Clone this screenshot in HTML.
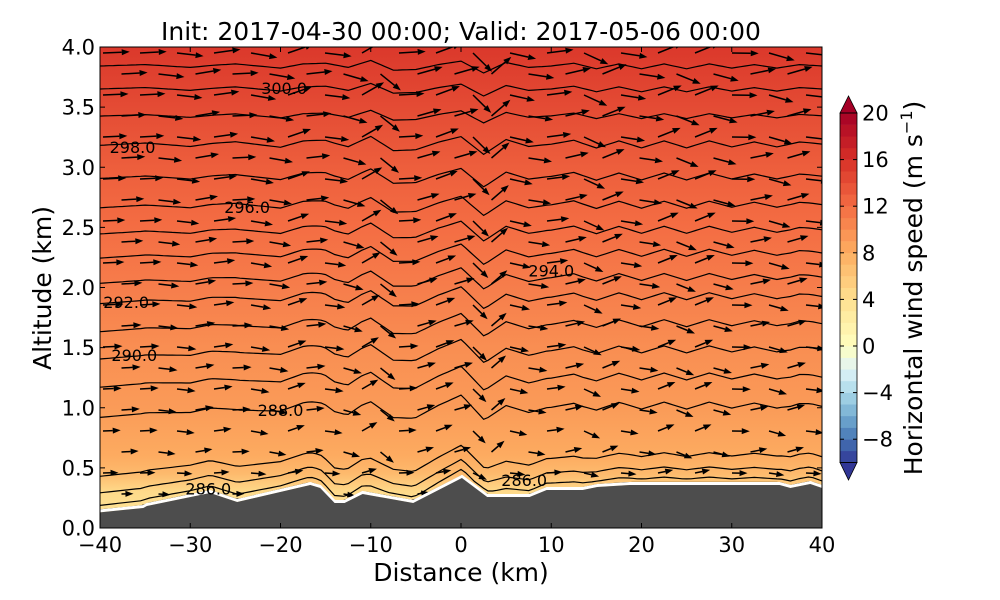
<!DOCTYPE html>
<html><head><meta charset="utf-8">
<style>
html,body{margin:0;padding:0;background:#fff;}
svg{display:block;font-family:"DejaVu Sans","Liberation Sans",sans-serif;}
</style></head>
<body>
<svg id="chart" width="1000" height="600" viewBox="0 0 1000 600">
  <defs>
    <clipPath id="plotclip"><rect x="100" y="47" width="722" height="481"/></clipPath>
    <linearGradient id="bgGrad" x1="0" y1="0" x2="0" y2="1" gradientUnits="objectBoundingBox"></linearGradient>
  </defs>
  <rect x="0" y="0" width="1000" height="600" fill="#fff"/>
  <g clip-path="url(#plotclip)">
    <rect x="100" y="47" width="722" height="481" fill="url(#bgGrad)"/>
    <g id="contours"></g>
    <g id="arrows"></g>
    <path id="terrainWhite" fill="none" stroke="#fff" stroke-width="3"/>
    <path id="terrain" fill="#4d4d4d"/>
    <g id="clabels"></g>
  </g>
  <rect x="100" y="47" width="722" height="481" fill="none" stroke="#000" stroke-width="1"/>
  <g id="xticks"></g>
  <g id="yticks"></g>
  <text x="461" y="40" text-anchor="middle" font-size="25">Init: 2017-04-30 00:00; Valid: 2017-05-06 00:00</text>
  <text x="461" y="581" text-anchor="middle" font-size="25">Distance (km)</text>
  <text transform="translate(51,288) rotate(-90)" text-anchor="middle" font-size="25">Altitude (km)</text>
  <g id="cbar"></g>
  <text transform="translate(922,288) rotate(-90)" text-anchor="middle" font-size="25">Horizontal wind speed (m s<tspan font-size="16" dy="-10">−1</tspan><tspan dy="10">)</tspan></text>
</svg>
<script>
// ---- data ----
const xTicks = [-40,-30,-20,-10,0,10,20,30,40];
const yTicks = [0.0,0.5,1.0,1.5,2.0,2.5,3.0,3.5,4.0];
const cbarTicks = [20,16,12,8,4,0,-4,-8];
const terrainDist = [-40,-35.2,-34.8,-27.8,-24.8,-16.7,-15.6,-14.0,-12.9,-10.9,-5.3,0.1,2.9,7.6,9.5,13.5,15.1,18.7,35.3,36.5,38.7,40];
const terrainAlt  = [0.13,0.166,0.183,0.291,0.216,0.358,0.333,0.208,0.208,0.283,0.208,0.416,0.258,0.258,0.316,0.316,0.341,0.358,0.358,0.333,0.366,0.333];
const thetaLevels = [284,285,286,287,288,289,290,291,292,293,294,295,296,297,298,299,300,301];
const thetaBaseAlt = [0.150,0.233,0.333,0.466,0.940,1.189,1.422,1.647,1.879,2.046,2.254,2.453,2.669,2.911,3.185,3.426,3.651,3.842];
const waveDist = [-40,-37.5,-35,-32.5,-30,-27.5,-25,-22.5,-20,-17.5,-15,-12.5,-10,-7.5,-5,-2.5,0,2.5,5,7.5,10,12.5,15,17.5,20,22.5,25,27.5,30,32.5,35,37.5,40];
const waveDisp = [0,1,2,0,-2,1,3,0,-3,3,4,-2,8,-6,-5,2,7,-10,5,-2,0,4,-4,3,-4,3,-4,3,-3,2,-3,2,0];
const speedAlt = [0.0,0.3,0.45,0.6,1.0,1.5,2.0,2.5,3.0,3.5,4.0];
const speedVal = [3,4.5,7,8.2,9.2,10,11,12,13,14.2,15.5];
const labelText = ["300.0","298.0","296.0","294.0","292.0","290.0","288.0","286.0","286.0"];
const labelDist = [-19.6,-36.4,-23.7,10.0,-37.1,-36.2,-20.0,-28.0,7.0];
const labelAlt  = [3.66,3.17,2.67,2.14,1.88,1.44,0.98,0.33,0.40];

// ---- helpers ----
const NS="http://www.w3.org/2000/svg";
const X=d=>100+(d+40)*9.025;
const Y=h=>528-h*120.25;
function interp(xs,ys,x){ if(x<=xs[0])return ys[0]; for(let i=1;i<xs.length;i++){ if(x<=xs[i]){const t=(x-xs[i-1])/(xs[i]-xs[i-1]);return ys[i-1]+t*(ys[i]-ys[i-1]);}} return ys[ys.length-1]; }
const terrainAt=d=>interp(terrainDist,terrainAlt,d);
const dispAt=d=>interp(waveDist,waveDisp,d);
const stops=[[0,[49,54,149]],[0.1,[69,117,180]],[0.2,[116,173,209]],[0.3,[171,217,233]],[0.4,[224,243,248]],[0.5,[255,255,191]],[0.6,[254,224,144]],[0.7,[253,174,97]],[0.8,[244,109,67]],[0.9,[215,48,39]],[1,[165,0,38]]];
function cmap(v){ let t=v>=0?0.5+0.5*v/20:0.5+0.5*v/10; t=Math.max(0,Math.min(1,t));
  for(let i=1;i<stops.length;i++){ if(t<=stops[i][0]){const a=stops[i-1],b=stops[i];const f=(t-a[0])/(b[0]-a[0]);
    const c=a[1].map((x,k)=>Math.round(x+f*(b[1][k]-x)));return `rgb(${c[0]},${c[1]},${c[2]})`;}} return 'rgb(165,0,38)'; }
function mk(tag,attrs,parent){const e=document.createElementNS(NS,tag);for(const k in attrs)e.setAttribute(k,attrs[k]);parent.appendChild(e);return e;}

// background gradient
const grad=document.getElementById('bgGrad');
for(let i=speedAlt.length-1;i>=0;i--){
  const off=(Y(speedAlt[i])-47)/481;
  mk('stop',{offset:off.toFixed(4),'stop-color':cmap(speedVal[i])},grad);
}

// terrain
let tp=`M ${X(-40)} 530 `;
let tw='';
terrainDist.forEach((d,i)=>{tp+=`L ${X(d).toFixed(1)} ${Y(terrainAlt[i]).toFixed(1)} `;tw+=(i?'L ':'M ')+`${X(d).toFixed(1)} ${(Y(terrainAlt[i])-1.5).toFixed(1)} `;});
tp+=`L ${X(40)} 530 Z`;
document.getElementById('terrain').setAttribute('d',tp);
document.getElementById('terrainWhite').setAttribute('d',tw);

function lineParams(i){
  if(i<4){return {tf:[1,1,0.9,0.8][i],amp:[0.2,0.3,0.4,0.55][i]};}
  return {tf:Math.max(0,0.45-0.04*(i-4)),amp:i>14?0.7:1};
}
function lineAlt(i,d){
  const p=lineParams(i);
  let h=thetaBaseAlt[i]+p.tf*(terrainAt(d)-0.175)+p.amp*dispAt(d)/120.25;
  const minH=terrainAt(d)+0.02+0.03*i;
  if(i<4&&h<minH)h=minH;
  return h;
}
const cg=document.getElementById('contours');
thetaLevels.forEach((th,i)=>{
  let s='';
  for(let d=-40;d<=40.001;d+=0.5){s+=(d===-40?'M ':'L ')+X(d).toFixed(1)+' '+Y(lineAlt(i,d)).toFixed(1)+' ';}
  const p=mk('path',{d:s,fill:'none',stroke:'#000','stroke-width':'1.2'},cg);
  
  
});

// wind vectors
const ag=document.getElementById('arrows');
let row=0;
for(let py=53;py<525;py+=21,row++){
  const off=(row%2)*18.5;
  for(let px=103+off;px<815;px+=37){
    const d=(px-100)/9.025-40, h=(528-py)/120.25;
    if(h<terrainAt(d)+0.04)continue;
    const sp=interp(speedAlt,speedVal,h);
    const ampF=h<0.6?0.5:1;
    const slope=ampF*(dispAt(d+0.6)-dispAt(d-0.6))/(1.2*9.025);
    const ang=Math.atan(-slope*1.3);
    const L=sp*1.35+6;
    const x2=px+L*Math.cos(ang), y2=py+L*Math.sin(ang);
    const hx=x2-8*Math.cos(ang), hy=y2-8*Math.sin(ang);
    const nx=-Math.sin(ang)*3, ny=Math.cos(ang)*3;
    const g=mk('g',{},ag);
    
    
    mk('line',{x1:px.toFixed(1),y1:py.toFixed(1),x2:hx.toFixed(1),y2:hy.toFixed(1),stroke:'#000','stroke-width':'1.5'},g);
    mk('path',{d:`M ${x2.toFixed(1)} ${y2.toFixed(1)} L ${(hx+nx).toFixed(1)} ${(hy+ny).toFixed(1)} L ${(hx-nx).toFixed(1)} ${(hy-ny).toFixed(1)} Z`,fill:'#000'},g);
  }
}

// contour labels
const lg=document.getElementById('clabels');
labelText.forEach((t,i)=>{
  const e=mk('text',{x:X(labelDist[i]).toFixed(1),y:(Y(labelAlt[i])+6).toFixed(1),'font-size':'16','text-anchor':'middle',fill:'#000'},lg);
  e.textContent=t;
  
  
});

// axes
const xg=document.getElementById('xticks');
xTicks.forEach(v=>{
  mk('line',{x1:X(v),y1:528,x2:X(v),y2:523,stroke:'#000'},xg);
  mk('line',{x1:X(v),y1:47,x2:X(v),y2:52,stroke:'#000'},xg);
  const t=mk('text',{x:X(v),y:552,'font-size':'21','text-anchor':'middle'},xg);
  t.textContent=(v<0?'−':'')+Math.abs(v);
  
  
});
const yg=document.getElementById('yticks');
yTicks.forEach(v=>{
  mk('line',{x1:100,y1:Y(v),x2:105,y2:Y(v),stroke:'#000'},yg);
  mk('line',{x1:822,y1:Y(v),x2:817,y2:Y(v),stroke:'#000'},yg);
  const t=mk('text',{x:95,y:Y(v)+7.5,'font-size':'21','text-anchor':'end'},yg);
  t.textContent=v.toFixed(1);
  
  
});

// colorbar
const cb=document.getElementById('cbar');
const CBY=v=>113+(20-v)*11.65;
for(let v=-10;v<20;v++){
  const r=mk('rect',{x:840,y:CBY(v+1).toFixed(2),width:17,height:'11.9',fill:cmap(v+0.5)},cb);
  
  
}
mk('path',{d:`M 840 ${CBY(20)} L 848.5 96 L 857 ${CBY(20)} Z`,fill:cmap(21),stroke:'#000','stroke-width':'0.8'},cb);
mk('path',{d:`M 840 ${CBY(-10)} L 848.5 480 L 857 ${CBY(-10)} Z`,fill:cmap(-11),stroke:'#000','stroke-width':'0.8'},cb);
mk('rect',{x:840,y:CBY(20),width:17,height:CBY(-10)-CBY(20),fill:'none',stroke:'#000','stroke-width':'0.8'},cb);
cbarTicks.forEach(v=>{
  mk('line',{x1:840,y1:CBY(v),x2:844,y2:CBY(v),stroke:'#000'},cb);
  mk('line',{x1:853,y1:CBY(v),x2:857,y2:CBY(v),stroke:'#000'},cb);
  const t=mk('text',{x:862,y:CBY(v)+7.5,'font-size':'21'},cb);
  t.textContent=(v<0?'−':'')+Math.abs(v);
  
  
});
</script>
</body></html>
